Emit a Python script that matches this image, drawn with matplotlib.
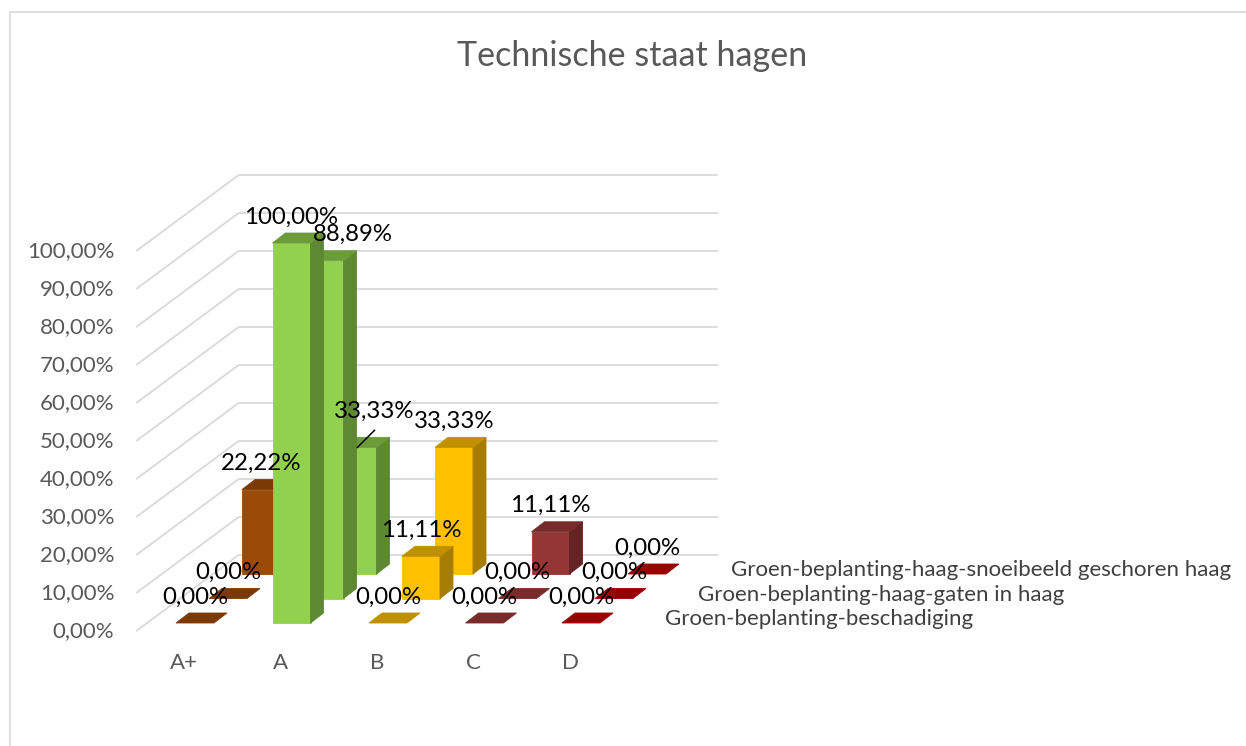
import matplotlib
matplotlib.use("Agg")
import matplotlib.pyplot as plt
from matplotlib.patches import Polygon, Rectangle

# ---------------- data ----------------
title = "Technische staat hagen"
categories = ["A+", "A", "B", "C", "D"]
series_names = [
    "Groen-beplanting-beschadiging",
    "Groen-beplanting-haag-gaten in haag",
    "Groen-beplanting-haag-snoeibeeld geschoren haag",
]
beschadiging = [0.00, 100.00, 0.00, 0.00, 0.00]
gaten_in_haag = [0.00, 88.89, 11.11, 0.00, 0.00]
snoeibeeld = [22.22, 33.33, 33.33, 11.11, 0.00]
y_ticks = [0, 10, 20, 30, 40, 50, 60, 70, 80, 90, 100]

# colours per category (front face, side face, top face)
face_colors = ["#994A06", "#92D050", "#FFC000", "#943634", "#C00000"]
side_colors = ["#703604", "#5E8832", "#A67D00", "#632423", "#800000"]
top_colors = ["#7B3A05", "#6C9B3C", "#BF9000", "#772B2A", "#990000"]

series_values = [beschadiging, gaten_in_haag, snoeibeeld]

# ---------------- layout ----------------
W_PX, H_PX = 1246, 746
X0_PX, Y0_PX = 176, 623      # pixel of category 0 / value 0 in front row
CAT_PX = 96.5                # pixels per category
PCT_PX = 3.8                 # pixels per percent
ROW_DX = 33 / CAT_PX         # depth shift per series row
ROW_DY = 24.5 / PCT_PX
BAR_W = 38 / CAT_PX
SDX = 13 / CAT_PX            # bar depth
SDY = 10 / PCT_PX
WALL_X = -0.30               # left wall x at depth 0
WALL_D0, WALL_D1 = -0.33, 2.78
BACK_RIGHT = (718 - X0_PX) / CAT_PX
LABEL_DY = 26 / PCT_PX
AXIS_FS = 16
DATA_FS = 17.3

plt.rcParams["font.family"] = ["Lato", "DejaVu Sans"]

fig = plt.figure(figsize=(W_PX / 100, H_PX / 100), dpi=100)
ax = fig.add_axes([0, 0, 1, 1])
ax.set_xlim(-X0_PX / CAT_PX, (W_PX - X0_PX) / CAT_PX)
ax.set_ylim((Y0_PX - H_PX) / PCT_PX, Y0_PX / PCT_PX)
ax.axis("off")

# chart border
fig.patches.append(Rectangle((10 / W_PX, -0.1), 1.2, 1 - 12 / H_PX + 0.1,
                             transform=fig.transFigure, fill=False,
                             edgecolor="#D9D9D9", linewidth=1.2))

grid_c = "#D9D9D9"
xa = WALL_X + WALL_D0 * ROW_DX
xb = WALL_X + WALL_D1 * ROW_DX
for t in y_ticks:
    ya = t + WALL_D0 * ROW_DY
    yb = t + WALL_D1 * ROW_DY
    ax.plot([xa, xb], [ya, yb], color=grid_c, lw=1.3, zorder=1,
            solid_capstyle="butt")
    ax.plot([xb, BACK_RIGHT], [yb, yb], color=grid_c, lw=1.3, zorder=1,
            solid_capstyle="butt")
    ax.text(xa - 0.227, ya, f"{t:.2f}%".replace(".", ","), ha="right",
            va="center", fontsize=AXIS_FS, color="#595959")

# category labels
for i, c in enumerate(categories):
    ax.text(i + BAR_W / 2 + WALL_D0 * ROW_DX, WALL_D0 * ROW_DY - 8.4, c,
            ha="center", va="center", fontsize=AXIS_FS, color="#595959")

# series (depth) labels
for r, name in enumerate(series_names):
    ax.text(len(categories) + 0.07 + r * ROW_DX, 1.05 + r * ROW_DY, name,
            ha="left", va="center", fontsize=AXIS_FS, color="#404040")


def draw_bar(i, r, v, z):
    x0 = i + r * ROW_DX
    y0 = r * ROW_DY
    x1 = x0 + BAR_W
    y1 = y0 + v
    kw = dict(linewidth=0.6, zorder=z)
    if v > 0:
        ax.add_patch(Rectangle((x0, y0), BAR_W, v, facecolor=face_colors[i],
                               edgecolor=face_colors[i], **kw))
        ax.add_patch(Polygon([(x1, y0), (x1 + SDX, y0 + SDY),
                              (x1 + SDX, y1 + SDY), (x1, y1)],
                             facecolor=side_colors[i],
                             edgecolor=side_colors[i], **kw))
    ax.add_patch(Polygon([(x0, y1), (x1, y1), (x1 + SDX, y1 + SDY),
                          (x0 + SDX, y1 + SDY)],
                         facecolor=top_colors[i], edgecolor=top_colors[i],
                         **kw))


# draw back rows first
for r in range(len(series_values) - 1, -1, -1):
    for i, v in enumerate(series_values[r]):
        draw_bar(i, r, v, 5 + (len(series_values) - r))

# data labels
label_shift = {(1, 1): (28 / CAT_PX, 0.0), (2, 1): (17 / CAT_PX, 10 / PCT_PX)}
for r, vals in enumerate(series_values):
    for i, v in enumerate(vals):
        cx = i + BAR_W / 2 + r * ROW_DX
        top = v + r * ROW_DY
        dx, dy = label_shift.get((r, i), (0.0, 0.0))
        ax.text(cx + dx, top + LABEL_DY + dy, f"{v:.2f}%".replace(".", ","),
                ha="center", va="center", fontsize=DATA_FS, color="black",
                zorder=30)
        if (r, i) == (2, 1):
            ax.plot([cx, cx + 17 / CAT_PX], [top, top + 17 / PCT_PX],
                    color="black", lw=1.1, zorder=30)

fig.text(632 / W_PX, 1 - 56 / H_PX, title, ha="center", va="center",
         fontsize=24.6, color="#595959")

fig.savefig("out.png", dpi=100, facecolor="white")
